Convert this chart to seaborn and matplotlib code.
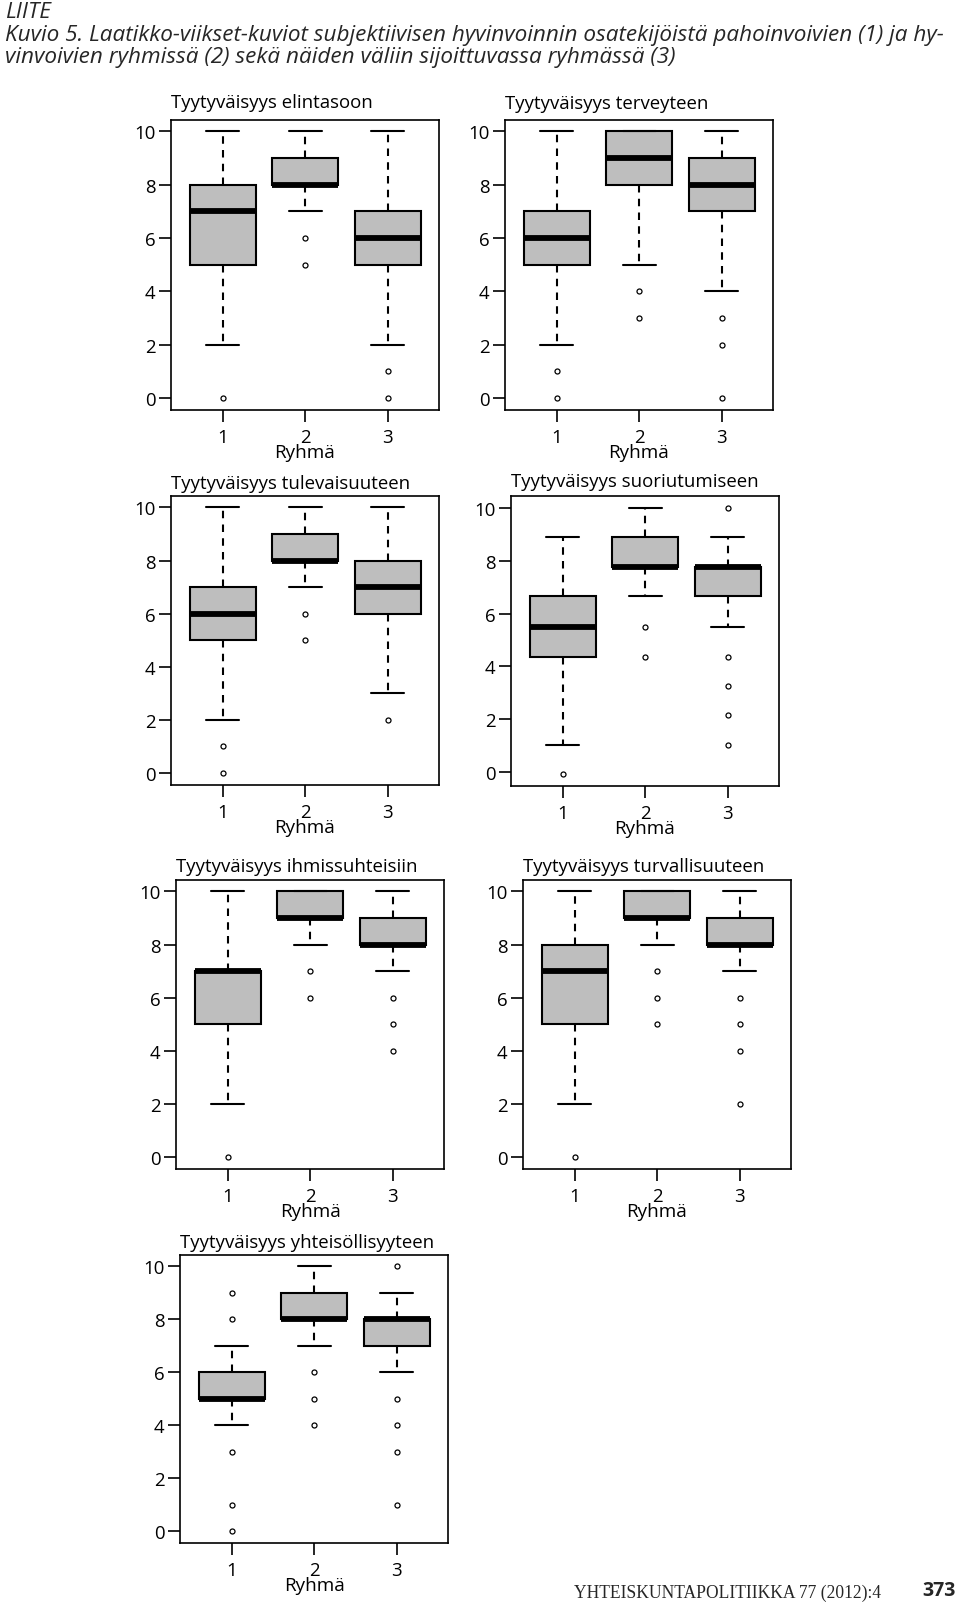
import matplotlib
matplotlib.use("Agg")
import matplotlib.pyplot as plt
import seaborn as sns

# ---------------- data ----------------
TITLES = [
    "Tyytyväisyys elintasoon",
    "Tyytyväisyys terveyteen",
    "Tyytyväisyys tulevaisuuteen",
    "Tyytyväisyys suoriutumiseen",
    "Tyytyväisyys ihmissuhteisiin",
    "Tyytyväisyys turvallisuuteen",
    "Tyytyväisyys yhteisöllisyyteen",
]
GROUPS = ["1", "2", "3"]
X_LABEL = "Ryhmä"
Y_TICKS = [0, 2, 4, 6, 8, 10]

WHISLO = [[2, 7, 2], [2, 5, 4], [2, 7, 3], [1.03, 6.67, 5.48], [2, 8, 7], [2, 8, 7], [4, 7, 6]]
Q1 = [[5, 8, 5], [5, 8, 7], [5, 8, 6], [4.37, 7.78, 6.67], [5, 9, 8], [5, 9, 8], [5, 8, 7]]
MED = [[7, 8, 6], [6, 9, 8], [6, 8, 7], [5.48, 7.78, 7.78], [7, 9, 8], [7, 9, 8], [5, 8, 8]]
Q3 = [[8, 9, 7], [7, 10, 9], [7, 9, 8], [6.67, 8.89, 7.78], [7, 10, 9], [8, 10, 9], [6, 9, 8]]
WHISHI = [[10, 10, 10], [10, 10, 10], [10, 10, 10], [8.89, 10, 8.89], [10, 10, 10], [10, 10, 10], [7, 10, 9]]
FLIERS = [
    [[0], [6, 5], [1, 0]],
    [[1, 0], [4, 3], [3, 2, 0]],
    [[1, 0], [6, 5], [2]],
    [[-0.09], [5.48, 4.37], [10, 4.37, 3.25, 2.14, 1.03]],
    [[0], [7, 6], [6, 5, 4]],
    [[0], [7, 6, 5], [6, 5, 4, 2]],
    [[9, 8, 3, 1, 0], [6, 5, 4], [10, 5, 4, 3, 1]],
]

HEAD_1 = "LIITE"
HEAD_2 = ("Kuvio 5. Laatikko-viikset-kuviot subjektiivisen hyvinvoinnin "
          "osatekijöistä pahoinvoivien (1) ja hy-")
HEAD_3 = "vinvoivien ryhmissä (2) sekä näiden väliin sijoittuvassa ryhmässä (3)"
FOOT_JOURNAL = "YHTEISKUNTAPOLITIIKKA 77 (2012):4"
FOOT_PAGE = "373"

# ---------------- layout (pixels in a 960 x 1606 canvas) ----------------
W, H = 960, 1606
FRAMES = [(171, 121, 439, 411), (505, 121, 773, 411),
          (171, 497, 439, 786), (511, 497, 779, 787),
          (176, 881, 444, 1170), (523, 881, 791, 1170),
          (180, 1256, 448, 1544)]
YLIMS = [(-0.45, 10.43), (-0.45, 10.43), (-0.45, 10.43), (-0.54, 10.46),
         (-0.44, 10.43), (-0.44, 10.43), (-0.44, 10.42)]
TITLE_PADS = [9, 8.5, 6, 7, 6.5, 6.5, 6]

sns.set_theme(style="ticks")
FONT = ["Open Sans", "Noto Sans", "DejaVu Sans"]
plt.rcParams["font.family"] = FONT
plt.rcParams["axes.linewidth"] = 1.2

fig = plt.figure(figsize=(W / 100, H / 100), dpi=100)
fig.patch.set_facecolor("white")

BOX_GRAY = "#bebebe"

for i, (x0, y0, x1, y1) in enumerate(FRAMES):
    ax = fig.add_axes([x0 / W, 1 - y1 / H, (x1 - x0) / W, (y1 - y0) / H])
    ax.set_facecolor("white")
    stats = []
    for g in range(3):
        stats.append(dict(med=MED[i][g], q1=Q1[i][g], q3=Q3[i][g],
                          whislo=WHISLO[i][g], whishi=WHISHI[i][g],
                          fliers=FLIERS[i][g], label=GROUPS[g]))
    ax.bxp(stats, positions=[1, 2, 3], widths=0.8, capwidths=0.4,
           patch_artist=True, showfliers=True,
           boxprops=dict(facecolor=BOX_GRAY, edgecolor="black", linewidth=1.5),
           medianprops=dict(color="black", linewidth=4.2, solid_capstyle="butt"),
           whiskerprops=dict(color="black", linewidth=1.5, linestyle=(0, (3.6, 3.0))),
           capprops=dict(color="black", linewidth=1.5),
           flierprops=dict(marker="o", markersize=3.6, markerfacecolor="white",
                           markeredgecolor="black", markeredgewidth=0.9,
                           linestyle="none"))
    ax.set_xlim(0.37, 3.62)
    ax.set_ylim(*YLIMS[i])
    ax.set_yticks(Y_TICKS)
    ax.set_yticklabels([str(t) for t in Y_TICKS])
    ax.set_xticks([1, 2, 3])
    ax.set_xticklabels(GROUPS)
    ax.tick_params(axis="both", direction="out", length=8.5, width=1.2,
                   labelsize=13.4, colors="black", pad=2.5)
    ax.tick_params(axis="x", pad=4.2)
    ax.set_xlabel(X_LABEL, fontsize=13.6, labelpad=-2.2, color="black")
    ax.set_title(TITLES[i], loc="left", fontsize=13.4, pad=TITLE_PADS[i],
                 color="black")
    for s in ax.spines.values():
        s.set_visible(True)
        s.set_color("black")
        s.set_linewidth(1.2)
    ax.grid(False)

# heading texts
t1 = fig.text(5 / W, 1 - 12 / H, HEAD_1, fontsize=12.5, style="italic",
              ha="left", va="center", family=FONT)
t2 = fig.text(5 / W, 1 - 36 / H, HEAD_2, fontsize=12.5, style="italic",
              ha="left", va="center", family=FONT)
t3 = fig.text(5 / W, 1 - 57 / H, HEAD_3, fontsize=12.5, style="italic",
              ha="left", va="center", family=FONT)
fj = fig.text(574 / W, 1 - 1593 / H, FOOT_JOURNAL, fontsize=10,
              ha="left", va="center", family=["Liberation Serif", "DejaVu Serif"])
fp = fig.text(956 / W, 1 - 1591 / H, FOOT_PAGE, fontsize=14, weight="bold",
              ha="right", va="center", family=FONT)

# fit the long heading line and the journal footer to their measured widths
fig.canvas.draw()
r = fig.canvas.get_renderer()
w2 = t2.get_window_extent(r).width
scale = 938 / w2
for t in (t1, t2, t3):
    t.set_fontsize(12.5 * scale)
wj = fj.get_window_extent(r).width
fj.set_fontsize(10 * 307 / wj)

fig.savefig("out.png", dpi=100, facecolor="white")
